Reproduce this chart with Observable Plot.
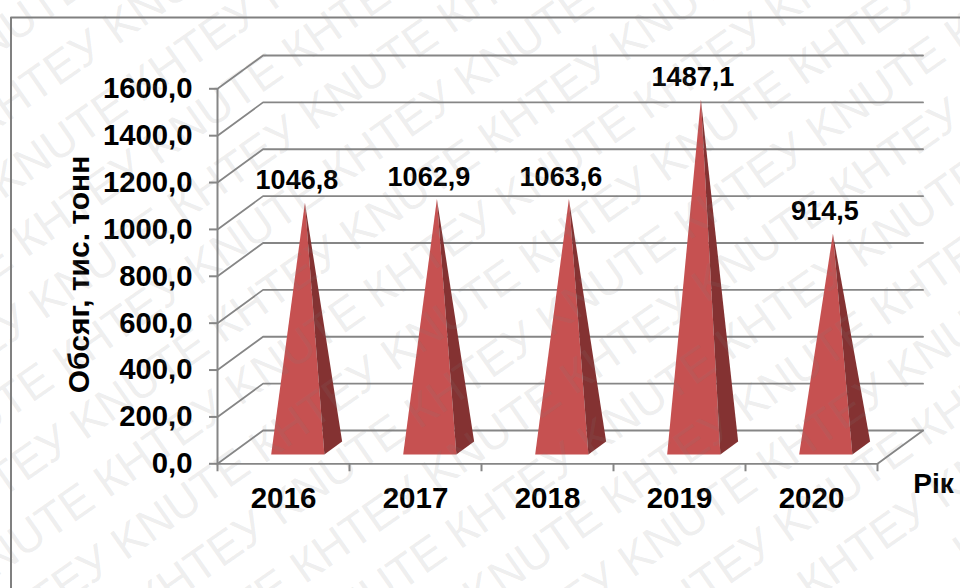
<!DOCTYPE html>
<html><head><meta charset="utf-8">
<script src="https://cdn.jsdelivr.net/npm/d3@7"></script>
<script src="https://cdn.jsdelivr.net/npm/@observablehq/plot@0.6"></script>
<style>html,body{margin:0;padding:0;background:#fff;overflow:hidden}svg{display:block}</style>
</head><body><div id="chart"></div>
<script>
const years = [2016, 2017, 2018, 2019, 2020];
const values = [1046.8, 1062.9, 1063.6, 1487.1, 914.5];
const yTicks = [0, 200, 400, 600, 800, 1000, 1200, 1400, 1600];
const xEdges = [0, 1, 2, 3, 4, 5];
const yTitle = "Обсяг, тис. тонн";
const xTitle = "Рік";
const watermark = "КНТЕУ KNUTE ";

const font = "Liberation Sans, Arial, sans-serif";
const GREY = "#868686";
const L = 217, R = 877, T = 88.3, B = 463.3;
const pxX = p => (p - L) / ((R - L) / 5);
const pxY = p => (B - p) / ((B - T) / 1600);
const DX = 0.345, DY = 142;
const P = (x, v, d) => ({x: x + d * DX, y: v + d * DY});

const fmt = d => d.toFixed(1).replace(".", ",");

// 3D frame
const grid = yTicks.flatMap(v => [P(0, v, 0), P(0, v, 1), P(5, v, 1)].map(p => ({...p, k: v})));
const floor = [P(0, 0, 0), P(5, 0, 0), P(5, 0, 1)];

// pyramids
const front = values.flatMap((v, i) => [P(i + .31, 0, .28), P(i + .713, 0, .28), P(i + .5, v, .47)].map(p => ({...p, k: i})));
const side = values.flatMap((v, i) => [P(i + .713, 0, .28), P(i + .713, 0, .67), P(i + .5, v, .47)].map(p => ({...p, k: i})));
const labels = values.map((v, i) => ({...P(i + .5, v, .47), t: fmt(v)}));

// watermark rows
const ang = 35 * Math.PI / 180, sp = 61;
const wmRows = d3.range(-8, 9).map(k => {
  const sh = 219 + k * 147;
  return {
    x: pxX(480 + Math.sin(ang) * sp * k + Math.cos(ang) * sh),
    y: pxY(294 + Math.cos(ang) * sp * k - Math.sin(ang) * sh)
  };
});

const chart = Plot.plot({
  width: 960, height: 588,
  marginLeft: L, marginRight: 960 - R, marginTop: T, marginBottom: 588 - B,
  style: {fontFamily: font, background: "#fff"},
  x: {type: "linear", domain: [0, 5], axis: null},
  y: {type: "linear", domain: [0, 1600], axis: null},
  marks: [
    Plot.line(grid, {x: "x", y: "y", z: "k", stroke: GREY, strokeWidth: 1.8, curve: "linear"}),
    Plot.line(floor, {x: "x", y: "y", stroke: GREY, strokeWidth: 1.8}),
    Plot.ruleX(xEdges, {y1: 0, y2: -34, stroke: GREY, strokeWidth: 2}),
    Plot.ruleX([0], {y1: 0, y2: 1600, stroke: GREY, strokeWidth: 2}),
    Plot.axisY(yTicks, {anchor: "left", tickSize: 8, tickPadding: 17, tickFormat: fmt, stroke: GREY, strokeWidth: 2,
      fill: "#000", fontSize: 29.3, fontWeight: "bold", label: null}),
    Plot.line(front, {x: "x", y: "y", z: "k", fill: "#C65151", stroke: "none"}),
    Plot.line(side, {x: "x", y: "y", z: "k", fill: "#843232", stroke: "none"}),
    Plot.text(labels, {x: "x", y: "y", text: "t", dx: -8, dy: -22, fontSize: 27, fontWeight: "bold", fill: "#000"}),
    Plot.text(years, {x: (d, i) => i + .5, y: () => 0, text: d => String(d), dy: 34.5, fontSize: 29.5, fontWeight: "bold", fill: "#000"}),
    Plot.text([xTitle], {x: () => pxX(933), y: () => pxY(484), text: d => d, fontSize: 28, fontWeight: "bold", fill: "#000"}),
    Plot.text([yTitle], {x: () => pxX(79), y: () => pxY(274), text: d => d, rotate: -90, fontSize: 30, fontWeight: "bold", fill: "#000"}),
    Plot.line([{x: pxX(10.5), y: pxY(588)}, {x: pxX(10.5), y: pxY(17)}, {x: pxX(960), y: pxY(17)}], {x: "x", y: "y", stroke: "#808080", strokeWidth: 2}),
    Plot.text(wmRows, {x: "x", y: "y", text: () => watermark.repeat(7), rotate: -35, fontSize: 46, fill: "#808080", fillOpacity: .14, stroke: "none"})
  ]
});
document.getElementById("chart").append(chart);
</script></body></html>
